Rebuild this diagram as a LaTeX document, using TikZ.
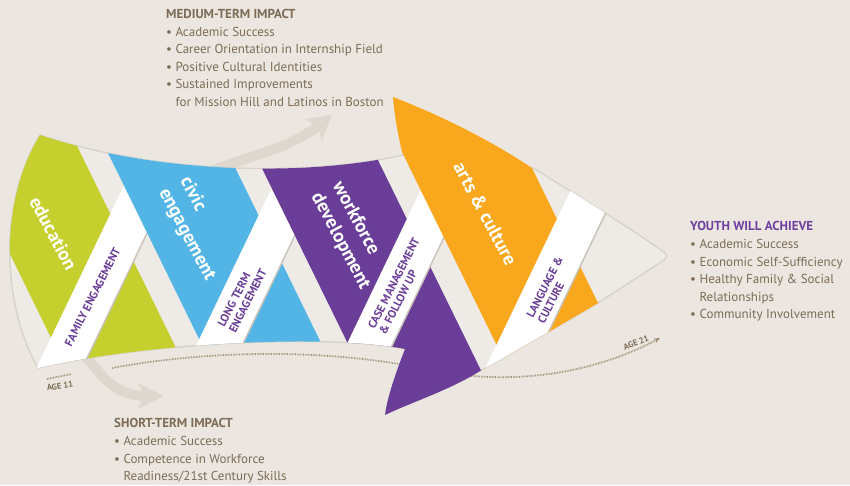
\documentclass[tikz,border=0pt]{standalone}
\usepackage{fontspec}
\setmainfont{PT Sans}
\usetikzlibrary{arrows.meta}

\definecolor{paper}{RGB}{235,231,224}
\definecolor{bodyfill}{RGB}{238,235,230}
\definecolor{bodyedge}{RGB}{216,210,201}
\definecolor{bandshadow}{RGB}{200,194,185}
\definecolor{arrowgray}{RGB}{221,215,206}
\definecolor{dotbrown}{RGB}{158,142,120}
\definecolor{textbrown}{RGB}{124,108,87}
\definecolor{greenband}{RGB}{197,208,46}
\definecolor{blueband}{RGB}{82,181,230}
\definecolor{purpleband}{RGB}{106,62,152}
\definecolor{orangeband}{RGB}{249,168,30}
\definecolor{headpurple}{RGB}{112,64,160}

% outline of the fish body, used for filling and clipping
\newcommand{\fishbody}{(40,135) .. controls (150,172) and (300,178) .. (403,155)
  -- (533,168) .. controls (580,197) and (630,228) .. (661,250)
  .. controls (669,255) and (668,258) .. (661,262)
  -- (598,303) -- (552,330) -- (480,371) -- (405,349)
  .. controls (330,334) and (150,342) .. (38,368)
  .. controls (0,300) and (0,200) .. (40,135) -- cycle}

\tikzset{
  >=Stealth,
  fishskin/.style={fill=bodyfill, draw=bodyedge, line width=1.4pt},
  whiteband/.style={
    fill=white,
    preaction={fill=bandshadow, transform canvas={shift={(1.2pt,-1.2pt)}}}},
  swoosh/.style={draw=arrowgray, line width=10pt},
  timeline/.style={draw=dotbrown, line width=1.8pt, dash pattern=on 0.7pt off 0.9pt},
  theme/.style={
    text=white,
    font=\bfseries\fontsize{19}{24}\selectfont,
    align=left,
    inner sep=0pt,
    rotate=-62},
  bandlabel/.style={
    text=purpleband,
    font=\bfseries\fontsize{11.5}{12.5}\selectfont,
    align=left,
    inner sep=0pt,
    rotate=63},
  impact/.style={
    text=textbrown,
    font=\fontsize{13}{17.6}\selectfont,
    align=left,
    anchor=north west,
    inner sep=0pt},
  agelabel/.style={text=textbrown, font=\bfseries\fontsize{8.5}{9}\selectfont, inner sep=0pt}
}

\begin{document}
\begin{tikzpicture}[x=1pt,y=-1pt]
  \fill[paper] (0,0) rectangle (850,485);
  \useasboundingbox (0,0) rectangle (850,485);

  % impact arrows behind the fish
  \draw[swoosh, -{Stealth[length=24pt,width=27pt,inset=7pt]}]
    (195,178) .. controls (245,155) and (285,152) .. (332,115);
  \draw[swoosh, -{Stealth[length=26pt,width=25pt,inset=7pt]}]
    (78,350) .. controls (100,368) and (108,396) .. (164,396);

  % age line
  \draw[timeline] (47,379) -- (72,374);
  \draw[timeline, -{Stealth[length=6pt,width=5pt]}]
    (112,368) .. controls (220,348) and (340,350) .. (430,370)
    .. controls (520,388) and (600,370) .. (660,338);
  \node[agelabel, rotate=8] (age11) at (60,386) {AGE 11};
  \node[agelabel, rotate=22] (age21) at (636,343) {AGE 21};

  % body and stripes
  \path[fishskin] \fishbody;
  \begin{scope}
    \clip \fishbody;
    \fill[greenband] (-75.3,80) -- (44.7,80) -- (216.2,430) -- (96.2,430) -- cycle;
    \path[whiteband] (174.6,80) -- (219.6,80) -- (51.6,430) -- (6.6,430) -- cycle;
    \fill[blueband] (72.2,80) -- (192.2,80) -- (363.7,430) -- (243.7,430) -- cycle;
    \path[whiteband] (323.6,80) -- (368.6,80) -- (200.6,430) -- (155.6,430) -- cycle;
    \fill[purpleband] (218.7,80) -- (338.7,80) -- (510.2,430) -- (390.2,430) -- cycle;
    \path[whiteband] (473.6,80) -- (518.6,80) -- (350.6,430) -- (305.6,430) -- cycle;
  \end{scope}

  % lower fin
  \fill[purpleband] (405,349) .. controls (396,372) and (387,398) .. (385,415)
    .. controls (412,402) and (450,390) .. (480,371) -- (466,345) -- (405,340) -- cycle;
  % upper fin
  \fill[orangeband] (393,97) .. controls (440,115) and (490,140) .. (532,168)
    -- (598,303) -- (552,330) -- (503,358) -- (402,152)
    .. controls (397,130) and (394,112) .. (393,97) -- cycle;
  \begin{scope}
    \clip \fishbody;
    \path[whiteband] (623.6,80) -- (668.6,80) -- (500.6,430) -- (455.6,430) -- cycle;
  \end{scope}

  % stripe texts
  \node[theme] (education) at (53.5,233.5) {education};
  \node[theme] (civic) at (197.4,229) {civic\\engagement};
  \node[theme] (workforce) at (351,235.5) {workforce\\development};
  \node[theme] (arts) at (485.5,213.5) {arts \& culture};

  \node[bandlabel] (family) at (92.5,297) {FAMILY ENGAGEMENT};
  \node[bandlabel] (longterm) at (242.2,297.8) {LONG TERM\\ENGAGEMENT};
  \node[bandlabel] (casemgmt) at (399.3,286.2) {CASE MANAGEMENT\\\& FOLLOW UP};
  \node[bandlabel] (language) at (550.3,290.2) {LANGUAGE \&\\CULTURE};

  % impact lists
  \node[impact] (medium) at (166,9) {\textbf{MEDIUM-TERM IMPACT}\\
    \textbullet~Academic Success\\
    \textbullet~Career Orientation in Internship Field\\
    \textbullet~Positive Cultural Identities\\
    \textbullet~Sustained Improvements\\
    \phantom{\textbullet~}for Mission Hill and Latinos in Boston};
  \node[impact] (youth) at (690,221.5) {\textcolor{headpurple}{\textbf{YOUTH WILL ACHIEVE}}\\
    \textbullet~Academic Success\\
    \textbullet~Economic Self-Sufficiency\\
    \textbullet~Healthy Family \& Social\\
    \phantom{\textbullet~}Relationships\\
    \textbullet~Community Involvement};
  \node[impact] (short) at (114,418.5) {\textbf{SHORT-TERM IMPACT}\\
    \textbullet~Academic Success\\
    \textbullet~Competence in Workforce\\
    \phantom{\textbullet~}Readiness/21st Century Skills};
\end{tikzpicture}
\end{document}
